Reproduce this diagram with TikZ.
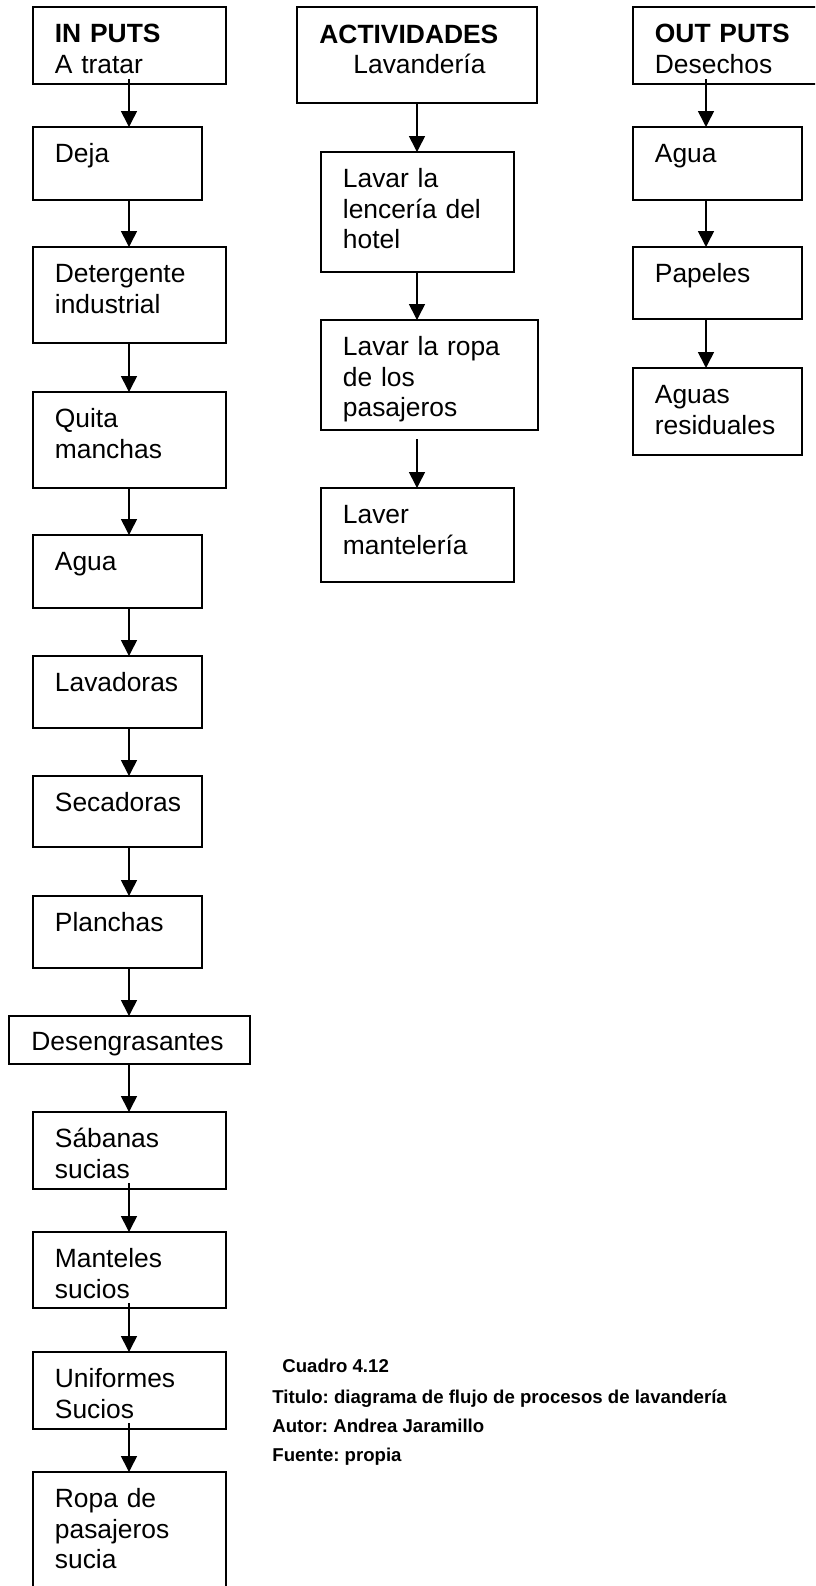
\documentclass[tikz,border=0pt]{standalone}
\usepackage{fontspec}
\setmainfont{Liberation Sans}
\usetikzlibrary{arrows.meta}
\frenchspacing

% box: left, top, right, bottom in pixel units (y grows downwards)
\newcommand\flowbox[6]{%
  \node[boxstyle, minimum width={(#4-#2)*0.5pt}, minimum height={(#5-#3)*0.5pt}]
    (#1) at ({(#2+#4)/2},{(#3+#5)/2}) {};
  \node[boxtext] (#1-t) at ({#2+21.5},{#3+35.5}) {#6};
}

\tikzset{
  boxstyle/.style={draw=black, line width=1pt, rectangle, inner sep=0pt, outer sep=0pt, fill=none},
  boxtext/.style={anchor=base west, inner sep=0pt, text width=160pt, align=left,
    font=\fontsize{13.2}{15.35}\selectfont},
  flow/.style={draw=black, line width=0.8pt, -{Triangle[length=8pt,width=8pt]}},
  caption/.style={anchor=base west, inner sep=0pt, font=\fontsize{9.3}{11}\selectfont\bfseries},
}

\begin{document}
\begin{tikzpicture}[x=0.5pt, y=-0.5pt]
\useasboundingbox (0,0) rectangle (815,1586);
\clip (0,0) rectangle (815,1586);
\fill[white] (0,0) rectangle (815,1586);

% column axes
\coordinate (colA) at (129,0);
\coordinate (colB) at (417,0);
\coordinate (colC) at (706,0);

% inputs
\flowbox{inputs}{33}{7}{226}{84}{\textbf{IN PUTS}\\A tratar}
\flowbox{deja}{33}{127}{202}{200}{Deja}
\flowbox{deterg}{33}{247}{226}{343}{Detergente\\industrial}
\flowbox{quita}{33}{392}{226}{488}{Quita\\manchas}
\flowbox{aguaA}{33}{535}{202}{608}{Agua}
\flowbox{lavad}{33}{656}{202}{728}{Lavadoras}
\flowbox{secad}{33}{776}{202}{847}{Secadoras}
\flowbox{planch}{33}{896}{202}{968}{Planchas}
\node[boxstyle, minimum width={241*0.5pt}, minimum height={48*0.5pt}] (deseng) at (129.5,1040) {};
\node[boxtext] (deseng-t) at (31,1050) {Desengrasantes};
\flowbox{sabanas}{33}{1112}{226}{1189}{Sábanas\\sucias}
\flowbox{mantel}{33}{1232}{226}{1308}{Manteles\\sucios}
\flowbox{unif}{33}{1352}{226}{1429}{Uniformes\\Sucios}
\flowbox{ropapas}{33}{1472}{226}{1610}{Ropa de\\pasajeros\\sucia}

% activities
\node[boxstyle, minimum width={240*0.5pt}, minimum height={96*0.5pt}] (activ) at (417,55) {};
\node[boxtext] (activ-t) at (319,43) {\textbf{ACTIVIDADES}\\\hspace*{17pt}Lavandería};
\flowbox{lenceria}{321}{152}{514}{272}{Lavar la\\lencería del\\hotel}
\flowbox{ropa}{321}{320}{538}{430}{Lavar la ropa\\de los\\pasajeros}
\flowbox{mantelA}{321}{488}{514}{582}{Laver\\mantelería}

% outputs
\flowbox{outputs}{633}{7}{840}{84}{\textbf{OUT PUTS}\\Desechos}
\flowbox{aguaC}{633}{127}{802}{200}{Agua}
\flowbox{papeles}{633}{247}{802}{319}{Papeles}
\flowbox{resid}{633}{368}{802}{455}{Aguas\\residuales}

% connectors, inputs column
\draw[flow, shorten <=-2.5pt] (inputs.south -| colA) -- (deja.north -| colA);
\draw[flow] (deja.south -| colA) -- (deterg.north -| colA);
\draw[flow] (deterg.south -| colA) -- (quita.north -| colA);
\draw[flow] (quita.south -| colA) -- (aguaA.north -| colA);
\draw[flow] (aguaA.south -| colA) -- (lavad.north -| colA);
\draw[flow] (lavad.south -| colA) -- (secad.north -| colA);
\draw[flow] (secad.south -| colA) -- (planch.north -| colA);
\draw[flow] (planch.south -| colA) -- (deseng.north -| colA);
\draw[flow] (deseng.south -| colA) -- (sabanas.north -| colA);
\draw[flow, shorten <=-3pt] (sabanas.south -| colA) -- (mantel.north -| colA);
\draw[flow, shorten <=-2.5pt] (mantel.south -| colA) -- (unif.north -| colA);
\draw[flow, shorten <=-3pt] (unif.south -| colA) -- (ropapas.north -| colA);

% connectors, activities column
\draw[flow] (activ.south -| colB) -- (lenceria.north -| colB);
\draw[flow] (lenceria.south -| colB) -- (ropa.north -| colB);
\draw[flow, shorten <=4.5pt] (ropa.south -| colB) -- (mantelA.north -| colB);

% connectors, outputs column
\draw[flow, shorten <=-2.5pt] (outputs.south -| colC) -- (aguaC.north -| colC);
\draw[flow] (aguaC.south -| colC) -- (papeles.north -| colC);
\draw[flow] (papeles.south -| colC) -- (resid.north -| colC);

% caption
\node[caption] (cap1) at (282,1372) {Cuadro 4.12};
\node[caption] (cap2) at (272,1403) {Titulo: diagrama de flujo de procesos de lavandería};
\node[caption] (cap3) at (272,1432) {Autor: Andrea Jaramillo};
\node[caption] (cap4) at (272,1461) {Fuente: propia};
\end{tikzpicture}
\end{document}
